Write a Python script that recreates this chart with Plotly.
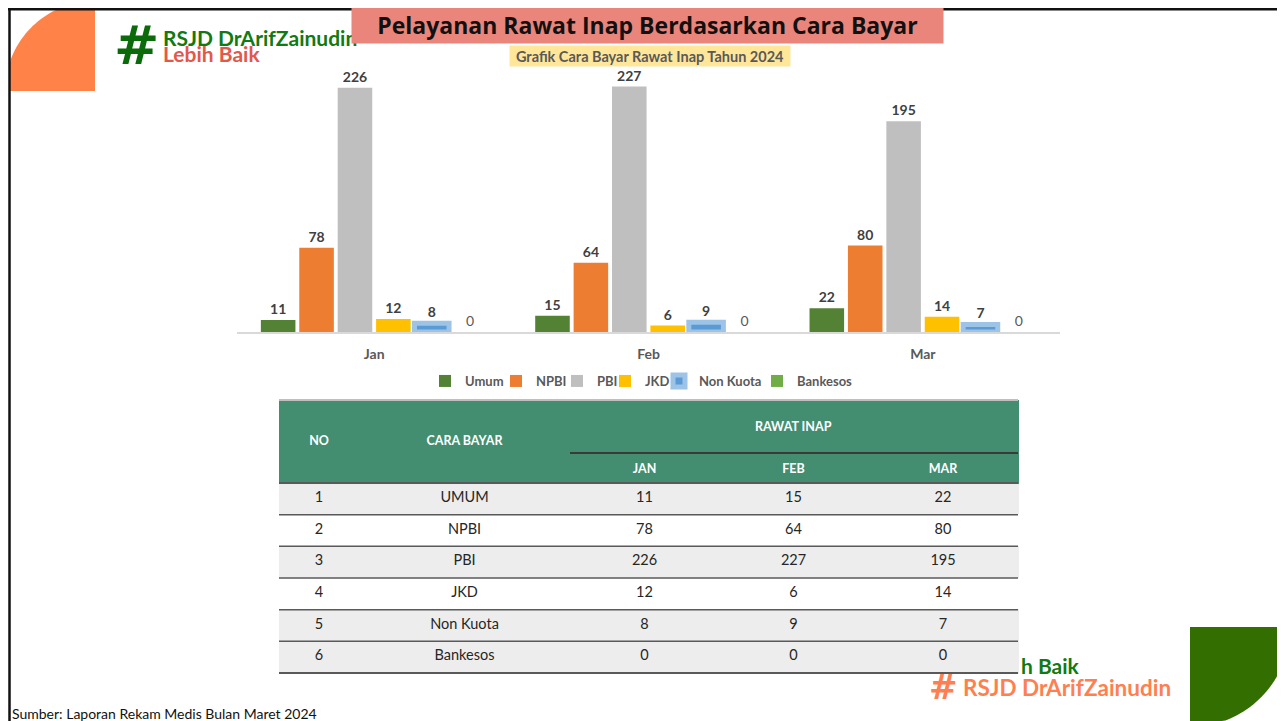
import numpy as np
import plotly.graph_objects as go

# The page body has an 8px margin; work in the reference's pixel coords and shift.
OFF = 8
W, H = 1285 - OFF, 721 - OFF

# ---------------- data ----------------
months = ["Jan", "Feb", "Mar"]
series_names = ["Umum", "NPBI", "PBI", "JKD", "Non Kuota", "Bankesos"]
umum = [11, 15, 22]
npbi = [78, 64, 80]
pbi = [226, 227, 195]
jkd = [12, 6, 14]
non_kuota = [8, 9, 7]
bankesos = [0, 0, 0]
series_values = [umum, npbi, pbi, jkd, non_kuota, bankesos]

table_no = [1, 2, 3, 4, 5, 6]
table_header_months = ["JAN", "FEB", "MAR"]
table_cara_bayar = ["UMUM", "NPBI", "PBI", "JKD", "Non Kuota", "Bankesos"]

title_text = "Pelayanan Rawat Inap Berdasarkan Cara Bayar"
subtitle_text = "Grafik Cara Bayar Rawat Inap Tahun 2024"
source_text = "Sumber: Laporan Rekam Medis Bulan Maret 2024"

# ---------------- styles ----------------
colors = ["#548235", "#ED7D31", "#BFBFBF", "#FFC000", "#5B9BD5", "#70AD47"]
FONT = "Lato, 'Open Sans', sans-serif"
legend_text_x = [465, 536, 597, 645, 699, 797]  # where each legend label starts


def px(x):
    return (x - OFF) / W


def py(y):
    return 1 - (y - OFF) / H


fig = go.Figure()

legend_ids = ["legend"] + [f"legend{k}" for k in range(2, 7)]
for i, (name, vals) in enumerate(zip(series_names, series_values)):
    is_nk = name == "Non Kuota"
    is_bk = name == "Bankesos"
    fig.add_trace(go.Bar(
        x=months, y=vals, name=name, legend=legend_ids[i],
        marker=dict(color=colors[i],
                    line=dict(color="#9DC3E6" if is_nk else colors[i],
                              width=5 if is_nk else 0)),
        text=[str(v) for v in vals],
        textposition="outside",
        cliponaxis=False,
        textfont=dict(family=FONT, size=14,
                      color="#595959" if is_bk else "#404040",
                      weight="normal" if is_bk else "bold"),
        hoverinfo="skip",
    ))

# ---------------- table ----------------
gray = "#EDEDED"
white = "#FFFFFF"
row_fill = [gray, white, gray, white, gray, gray]
table_cols = [table_no, table_cara_bayar] + [list(v) for v in zip(*series_values)]
hdr = [["", "NO", ""], ["", "CARA BAYAR", ""]] + [["", "", m] for m in table_header_months]
fig.add_trace(go.Table(
    domain=dict(x=[px(279), px(1018)], y=[py(675), py(400)]),
    columnwidth=[80, 211, 149, 149, 150],
    header=dict(
        values=hdr,
        fill_color="#438E71",
        line=dict(color="#438E71", width=1),
        font=dict(family=FONT, size=12.5, color="white", weight="bold"),
        align="center",
        height=27.67,
    ),
    cells=dict(
        values=table_cols,
        fill_color=[row_fill] * 5,
        line=dict(color=[row_fill] * 5, width=1),
        font=dict(family=FONT, size=14.5, color="#262626"),
        align="center",
        height=31.67,
    ),
))

# ---------------- layout ----------------
shapes = []
# decorative quarter discs
t = np.linspace(np.pi, 1.5 * np.pi, 40)
cx, cy, r = 95, 91, 90
pts = [(cx + r * np.cos(a), cy + r * np.sin(a)) for a in t]
pts = [(max(x, 10), max(y, 9)) for x, y in pts]
path = f"M {px(cx)},{py(cy)} " + " ".join(f"L {px(x)},{py(y)}" for x, y in pts) + " Z"
shapes.append(dict(type="path", xref="paper", yref="paper", path=path,
                   fillcolor="#FF8249", line=dict(width=0), layer="below"))
t2 = np.linspace(0, 0.5 * np.pi, 40)
cx2, cy2, r2 = 1190, 627, 100
pts2 = [(cx2 + r2 * np.cos(a), cy2 + r2 * np.sin(a)) for a in t2]
pts2 = [(min(x, 1285), min(y, 721)) for x, y in pts2]
path2 = f"M {px(cx2)},{py(cy2)} " + " ".join(f"L {px(x)},{py(y)}" for x, y in pts2) + " Z"
shapes.append(dict(type="path", xref="paper", yref="paper", path=path2,
                   fillcolor="#336E00", line=dict(width=0), layer="below"))
# frame
shapes.append(dict(type="line", xref="paper", yref="paper", x0=px(8), x1=1, y0=py(9.3), y1=py(9.3),
                   line=dict(color="#111111", width=2.5)))
shapes.append(dict(type="line", xref="paper", yref="paper", x0=px(9.5), x1=px(9.5), y0=py(8), y1=0,
                   line=dict(color="#111111", width=2.5)))
# table lines
shapes.append(dict(type="line", xref="paper", yref="paper", x0=px(279), x1=px(1018), y0=py(400), y1=py(400),
                   line=dict(color="#BFBFBF", width=2)))
shapes.append(dict(type="line", xref="paper", yref="paper", x0=px(570), x1=px(1018), y0=py(453), y1=py(453),
                   line=dict(color="#3A3A3A", width=2)))
for k in range(7):
    yy = 483 + k * 31.67
    shapes.append(dict(type="line", xref="paper", yref="paper", x0=px(279), x1=px(1018), y0=py(yy), y1=py(yy),
                       line=dict(color="#595959", width=2 if k in (0, 6) else 1.5)))

annotations = []
# logo top-left
annotations.append(dict(x=px(136), y=py(45), xref="paper", yref="paper", text="<b>#</b>", showarrow=False,
                        font=dict(family="DejaVu Sans", size=54, color="#0B6B0B"), xanchor="center", yanchor="middle"))
annotations.append(dict(x=px(161), y=py(37), xref="paper", yref="paper", text="<b>RSJD DrArifZainudin</b>",
                        showarrow=False, font=dict(family=FONT, size=21, color="#117A11"),
                        xanchor="left", yanchor="middle"))
annotations.append(dict(x=px(161), y=py(54), xref="paper", yref="paper", text="<b>Lebih Baik</b>",
                        showarrow=False, font=dict(family=FONT, size=21, color="#E2584A"),
                        xanchor="left", yanchor="middle"))
# title box
annotations.append(dict(x=px(647.5), y=py(25), xref="paper", yref="paper", text="<b>" + title_text + "</b>",
                        showarrow=False, font=dict(family="'Open Sans', sans-serif", size=23, color="#111111"),
                        bgcolor="#E9857A", width=591, height=36, borderpad=0,
                        xanchor="center", yanchor="middle"))
# subtitle box
annotations.append(dict(x=px(650), y=py(56), xref="paper", yref="paper", text="<b>" + subtitle_text + "</b>",
                        showarrow=False, font=dict(family=FONT, size=14.5, color="#595959"),
                        bgcolor="#FFE699", width=280, height=20, borderpad=0,
                        xanchor="center", yanchor="middle"))
# table spanning header
annotations.append(dict(x=px(793), y=py(426), xref="paper", yref="paper", text="<b>RAWAT INAP</b>",
                        showarrow=False, font=dict(family=FONT, size=12.5, color="white"),
                        xanchor="center", yanchor="middle"))
# bottom-right logo
annotations.append(dict(x=px(1019), y=py(665), xref="paper", yref="paper", text="<b>h Baik</b>",
                        showarrow=False, font=dict(family=FONT, size=21, color="#117A11"),
                        xanchor="left", yanchor="middle"))
annotations.append(dict(x=px(944), y=py(687), xref="paper", yref="paper", text="<b>#</b>",
                        showarrow=False, font=dict(family="DejaVu Sans", size=34, color="#FF7F50"),
                        xanchor="center", yanchor="middle"))
annotations.append(dict(x=px(961), y=py(687), xref="paper", yref="paper", text="<b>RSJD DrArifZainudin</b>",
                        showarrow=False, font=dict(family=FONT, size=22.5, color="#FF7F50"),
                        xanchor="left", yanchor="middle"))
# source
annotations.append(dict(x=px(10), y=py(713), xref="paper", yref="paper", text=source_text,
                        showarrow=False, font=dict(family=FONT, size=14, color="#111111"),
                        xanchor="left", yanchor="middle"))

legend_layout = {}
for i, lid in enumerate(legend_ids):
    legend_layout[lid] = dict(
        orientation="h", x=px(legend_text_x[i] - 40), y=py(381), xanchor="left", yanchor="middle",
        font=dict(family=FONT, size=13, color="#595959", weight="bold"),
        itemwidth=30, bgcolor="rgba(0,0,0,0)", borderwidth=0)

fig.update_layout(
    width=W, height=H,
    margin=dict(l=0, r=0, t=0, b=0),
    paper_bgcolor="white", plot_bgcolor="white",
    barmode="group", bargap=0.16, bargroupgap=0.1,
    xaxis=dict(domain=[px(237), px(1060)], showline=True, linecolor="#D9D9D9", linewidth=1.5,
               showgrid=False, zeroline=False, ticks="", ticklabelstandoff=8,
               tickfont=dict(family=FONT, size=14, color="#595959", weight="bold"), fixedrange=True),
    yaxis=dict(domain=[py(332), py(66)], range=[0, 246], visible=False, fixedrange=True),
    showlegend=True,
    shapes=shapes,
    annotations=annotations,
    **legend_layout,
)

fig.write_html("out.html")
